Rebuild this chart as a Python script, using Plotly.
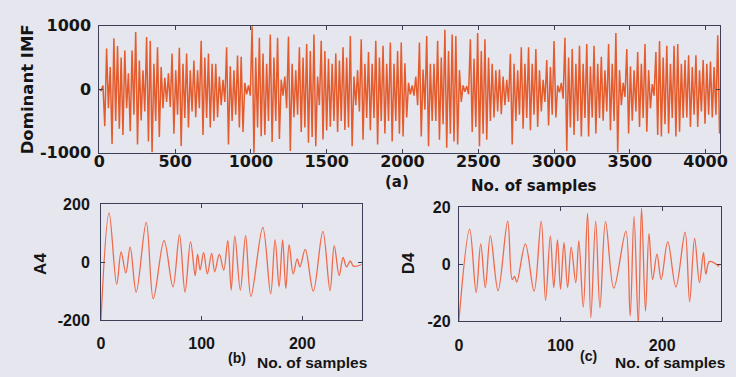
import numpy as np
import plotly.graph_objects as go

# ---------------- data ----------------
# Dominant IMF: successive extrema, one every 12 samples (0..4092)
imf_step = 12
imf_vals = [
    0, -20, 60, -580, 640, -300, 350, -860, 800, -500,
    680, -620, 500, -720, 610, -300, 250, -660, 610, -400,
    900, -870, 450, -490, 300, -350, 820, -820, 760, -990,
    400, -500, 660, -750, 350, -300, 180, -200, 250, -280,
    560, -700, 300, -400, 650, -890, 400, -450, 560, -600,
    300, -350, 450, -440, 300, -300, 760, -720, 500, -450,
    560, -600, 400, -500, 400, -440, 200, -250, 150, -200,
    660, -870, 360, -500, 300, -400, 530, -600, 510, -670,
    100, -80, 60, -100, 990, -1000, 500, -600, 810, -740,
    560, -720, 400, -500, 860, -830, 500, -500, 810, -780,
    150, -100, 200, -300, 830, -970, 400, -440, 300, -400,
    660, -670, 500, -600, 710, -840, 600, -750, 860, -894,
    200, -250, 760, -790, 600, -650, 480, -590, 400, -500,
    560, -670, 450, -500, 660, -640, 500, -600, 835, -894,
    200, -250, 300, -350, 785, -794, 400, -450, 585, -644,
    400, -450, 760, -870, 500, -500, 685, -694, 400, -500,
    735, -820, 400, -500, 600, -700, 735, -744, 408, -444,
    100, -80, 60, -100, 200, -250, 735, -744, 309, -320,
    835, -894, 400, -500, 400, -500, 760, -794, 500, -550,
    935, -920, 600, -700, 860, -820, 835, -870, 300, -200,
    60, -40, 50, -80, 785, -670, 480, -594, 885, -894,
    600, -700, 785, -794, 500, -500, 400, -444, 300, -350,
    309, -394, 200, -250, 150, -200, 559, -870, 400, -500,
    300, -400, 659, -619, 400, -450, 659, -644, 400, -400,
    634, -594, 300, -350, 150, -200, 459, -569, 350, -400,
    759, -444, 60, -50, 100, -150, 810, -970, 500, -600,
    634, -719, 400, -500, 684, -744, 400, -450, 709, -744,
    359, -444, 684, -694, 400, -450, 509, -494, 300, -350,
    709, -644, 400, -500, 885, -995, 300, -250, 100, -120,
    634, -694, 359, -494, 300, -350, 584, -594, 400, -450,
    709, -669, 300, -300, 80, -100, 584, -719, 759, -744,
    500, -550, 684, -694, 400, -450, 684, -744, 709, -669,
    400, -450, 459, -444, 534, -594, 350, -400, 534, -594,
    300, -350, 459, -544, 400, -400, 434, -444, 350, -400,
    850, -694,
]
imf_x = [i * imf_step for i in range(len(imf_vals))]

# A4: sample index of extrema and value
a4_x = [0, 8, 15.6, 20, 24.7, 29, 35, 45, 52, 62.7, 71.5, 78, 83.5, 89, 93.6,
        96, 98.5, 102, 105.7, 110, 113, 117.6, 122, 126, 129.4, 133, 138.5,
        143.7, 149, 160.8, 168.6, 173, 177, 180.5, 183.7, 187, 191, 195,
        197.7, 203, 211, 220.5, 227.6, 231.8, 236.7, 240.6, 244, 247.8, 251, 259]
a4_y = [-200, 170, -76, 35, -37, 52, -103, 137, -126, 74, -85, 94, -103, 71, -46,
        28, -27, 33, -40, 30, -33, 27, -27, 74, -96, 90, -96,
        91, -118, 120, -109, 77, -85, 77, -90, 60, -40, 11,
        -16, 44, -100, 106, -98, 57, -46, 16, -16, 4, -14, -8]

# D4: sample index of extrema and value
d4_x = [0, 10.6, 17, 21.5, 26, 31, 38.6, 48, 52.5, 54.8, 57, 65.4, 74, 81, 85.3,
        90, 93.4, 97, 100, 103.4, 107, 110.5, 115, 118, 122.4, 126.6, 129.8,
        134.6, 138.8, 144.3, 152.4, 164.3, 168.5, 172.3, 176.5, 179.7, 183.6,
        187, 190.6, 194.9, 199, 205.5, 213.5, 222.5, 227, 231.9, 236.7, 240.6,
        243, 246.4, 256]
d4_y = [-20, 12.4, -9.8, 7.2, -8.1, 10, -9.2, 15.2, -5.3, -4.2, -6.2, 7.2, -9.4, 15.2, -12.6,
        9.9, -8.1, 8.6, -8.7, 7.7, -8.1, 6.1, -6.4, 8.3, -15, 18, -18.7,
        15.2, -15.3, 15, -8.3, 11.7, -18.1, 16.9, -20.9, 19.7, -16.4,
        10.8, -5.3, 3.6, -5.3, 8, -7.9, 11.3, -13.1, 9.1, -6.4, 4.1,
        -3.4, 1, -0.7]

top_xticks = [0, 500, 1000, 1500, 2000, 2500, 3000, 3500, 4000]
top_yticks = [-1000, 0, 1000]
a4_xticks = [0, 100, 200]
a4_yticks = [-200, 0, 200]
d4_xticks = [0, 100, 200]
d4_yticks = [-20, 0, 20]

# ---------------- styling ----------------
W, H = 736, 377
BG = "#E6E6EF"
AX = "#3B3F58"
TXT = "#151515"
TOPFONT = "DejaVu Sans"
BOTFONT = "Liberation Sans"

def px_x(a, b):
    return [a / W, b / W]

def px_y(top, bottom):
    return [(H - bottom) / H, (H - top) / H]

fig = go.Figure()
fig.add_trace(go.Scatter(x=imf_x, y=imf_vals, mode="lines",
                         line=dict(color="#E55B2B", width=1.5),
                         xaxis="x", yaxis="y", showlegend=False))
fig.add_trace(go.Scatter(x=a4_x, y=a4_y, mode="lines",
                         line=dict(color="#EE6A4A", width=1.3, shape="spline", smoothing=1.0),
                         xaxis="x2", yaxis="y2", showlegend=False))
fig.add_trace(go.Scatter(x=d4_x, y=d4_y, mode="lines",
                         line=dict(color="#EE6A4A", width=1.3, shape="spline", smoothing=1.0),
                         xaxis="x3", yaxis="y3", showlegend=False))

def axis(domain, rng, ticks, anchor, family, size, standoff):
    return dict(domain=domain, range=rng, tickvals=ticks, ticktext=[str(t) for t in ticks],
                showline=True, mirror="ticks", linecolor=AX, linewidth=1,
                ticks="inside", ticklen=4, tickcolor=AX, tickwidth=1,
                showgrid=False, zeroline=False, anchor=anchor,
                ticklabelstandoff=standoff,
                tickfont=dict(family=family, size=size, color=TXT, weight="bold"))

fig.update_layout(
    width=W, height=H, margin=dict(l=0, r=0, t=0, b=0),
    paper_bgcolor=BG, plot_bgcolor=BG,
    xaxis=axis(px_x(95, 727), [0, 4096], top_xticks, "y", TOPFONT, 16, -6),
    yaxis=axis(px_y(17.5, 151.5), [-1000, 1000], top_yticks, "x", TOPFONT, 16, 4),
    xaxis2=axis(px_x(96.7, 362), [0, 259], a4_xticks, "y2", BOTFONT, 16, 9),
    yaxis2=axis(px_y(205.5, 327.7), [-200, 200], a4_yticks, "x2", BOTFONT, 16, 7),
    xaxis3=axis(px_x(461, 728), [0, 258], d4_xticks, "y3", BOTFONT, 16, 9),
    yaxis3=axis(px_y(209, 329), [-20, 20], d4_yticks, "x3", BOTFONT, 16, 4),
)

def label(text, x, y, family, size, angle=0):
    fig.add_annotation(text=text, x=x / W, y=1 - y / H, xref="paper", yref="paper",
                       showarrow=False, textangle=angle, xanchor="center", yanchor="middle",
                       font=dict(family=family, size=size, color=TXT, weight="bold"))

label("Dominant IMF", 22, 85, TOPFONT, 16.5, -90)
label("(a)", 398, 182, TOPFONT, 15)
label("No. of samples", 537, 186, TOPFONT, 15)
label("A4", 35, 268, BOTFONT, 17, -90)
label("(b)", 235, 368, BOTFONT, 14)
label("No. of samples", 311, 372, BOTFONT, 15.5)
label("D4", 410, 268, BOTFONT, 17, -90)
label("(c)", 593, 365, BOTFONT, 14)
label("No. of samples", 676, 372, BOTFONT, 15.5)

fig.write_html("out.html")
